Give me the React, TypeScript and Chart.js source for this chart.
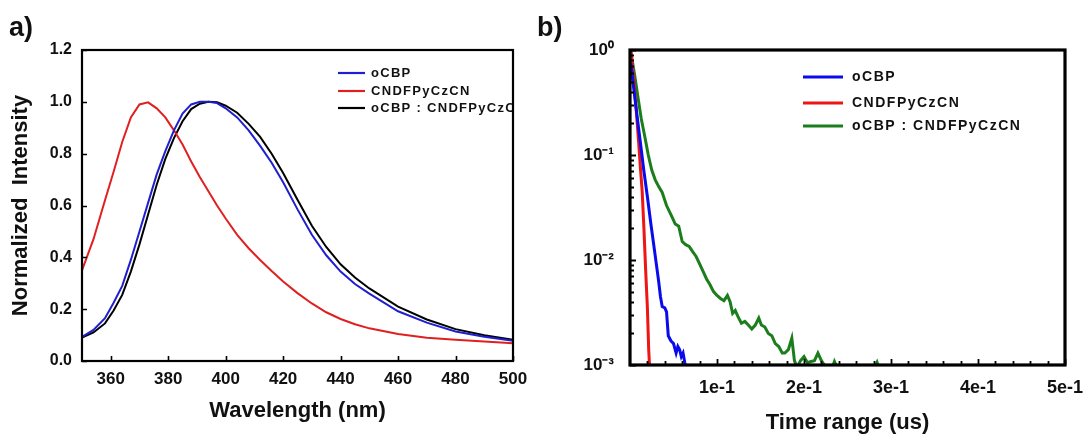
import React, { useEffect, useRef } from 'react';
import { Chart, registerables } from 'chart.js';

Chart.register(...registerables);

const FONT = '"Liberation Sans", Arial, Helvetica, sans-serif';

// ---------- Panel a: normalized PL spectra ----------
const wavelengths = [350, 354, 358, 361, 364, 367, 370, 373, 376, 379, 382, 385, 388, 391, 394, 397, 400, 404, 408, 412, 416, 420, 425, 430, 435, 440, 445, 450, 460, 470, 480, 490, 500];
const oCBPSpectrum = [0.093, 0.12, 0.165, 0.225, 0.29, 0.39, 0.5, 0.61, 0.72, 0.81, 0.89, 0.955, 0.99, 1.0, 1.0, 0.995, 0.975, 0.94, 0.89, 0.83, 0.765, 0.69, 0.585, 0.487, 0.408, 0.345, 0.297, 0.26, 0.192, 0.148, 0.114, 0.094, 0.078];
const cndfSpectrum = [0.35, 0.47, 0.62, 0.73, 0.845, 0.94, 0.99, 0.998, 0.975, 0.94, 0.89, 0.835, 0.77, 0.71, 0.655, 0.6, 0.55, 0.487, 0.435, 0.39, 0.347, 0.307, 0.262, 0.222, 0.188, 0.162, 0.142, 0.126, 0.104, 0.09, 0.082, 0.075, 0.068];
const blendSpectrum = [0.09, 0.11, 0.145, 0.195, 0.255, 0.345, 0.45, 0.565, 0.68, 0.78, 0.86, 0.925, 0.972, 0.993, 1.0, 0.998, 0.985, 0.958, 0.915, 0.865, 0.8, 0.725, 0.622, 0.522, 0.44, 0.373, 0.322, 0.28, 0.21, 0.16, 0.123, 0.099, 0.082];
const aXTicks = [360, 380, 400, 420, 440, 460, 480, 500];
const aYTicks = [0, 0.2, 0.4, 0.6, 0.8, 1.0, 1.2];
const aLabels = ['oCBP', 'CNDFPyCzCN', 'oCBP : CNDFPyCzCN'];

// ---------- Panel b: transient decay ----------
const oCBPDecay: [number, number | null][] = [
  [0.001, 0.75], [0.004, 0.45], [0.008, 0.24], [0.012, 0.13], [0.016, 0.07], [0.02, 0.04], [0.024, 0.022],
  [0.027, 0.0145], [0.03, 0.0095], [0.033, 0.0062], [0.035, 0.0045], [0.037, 0.0036], [0.04, 0.0035],
  [0.042, 0.0032], [0.044, 0.0019], [0.047, 0.0017], [0.05, 0.0016], [0.053, 0.0013], [0.055, 0.0015],
  [0.057, 0.0014], [0.059, 0.0012], [0.061, 0.0013], [0.063, 0.00105], [0.065, 0.0009],
];
const cndfDecay: [number, number | null][] = [
  [0.001, 1.0], [0.004, 0.55], [0.007, 0.28], [0.01, 0.13], [0.012, 0.075], [0.014, 0.045], [0.016, 0.02],
  [0.018, 0.008], [0.02, 0.0035], [0.0215, 0.0014], [0.023, 0.0008],
];
const blendDecay: [number, number | null][] = [
  [0.001, 0.95], [0.005, 0.6], [0.009, 0.36], [0.013, 0.22], [0.017, 0.15], [0.021, 0.1], [0.025, 0.072],
  [0.029, 0.058], [0.033, 0.05], [0.037, 0.044], [0.042, 0.033], [0.048, 0.026], [0.052, 0.022], [0.056, 0.021],
  [0.06, 0.015], [0.064, 0.014], [0.068, 0.0135], [0.072, 0.012], [0.076, 0.0108], [0.08, 0.0092], [0.084, 0.0078],
  [0.088, 0.0066], [0.092, 0.0058], [0.096, 0.005], [0.1, 0.0046], [0.104, 0.0043], [0.108, 0.0041], [0.112, 0.0046],
  [0.115, 0.004], [0.118, 0.0031], [0.121, 0.0033], [0.124, 0.0029], [0.128, 0.0025], [0.132, 0.0026], [0.136, 0.0024],
  [0.14, 0.0022], [0.144, 0.0024], [0.148, 0.0028], [0.151, 0.0024], [0.155, 0.0023], [0.159, 0.002], [0.163, 0.0019],
  [0.167, 0.0016], [0.171, 0.0015], [0.175, 0.0013], [0.178, 0.0013], [0.182, 0.0014], [0.186, 0.0018], [0.189, 0.0011],
  [0.192, 0.00095], [0.196, 0.0011], [0.2, 0.0012], [0.204, 0.00105], [0.208, 0.00108], [0.212, 0.0011], [0.216, 0.0013],
  [0.22, 0.0011], [0.224, 0.00098], [0.227, 0.0009], [0.23, null], [0.233, 0.00097], [0.235, 0.00108], [0.238, 0.00095],
  [0.26, null], [0.282, 0.00097], [0.284, 0.00106], [0.286, 0.00095],
];
const bXMajor = [0.1, 0.2, 0.3, 0.4, 0.5];
const bXLabels = ['1e-1', '2e-1', '3e-1', '4e-1', '5e-1'];
const bYMajor = [1, 0.1, 0.01, 0.001];
const bYLabels = ['10\u2070', '10\u207B\u00B9', '10\u207B\u00B2', '10\u207B\u00B3'];
const bLabels = ['oCBP', 'CNDFPyCzCN', 'oCBP : CNDFPyCzCN'];

// minor tick positions
const bXMinor: number[] = [];
for (let i = 1; i <= 25; i++) bXMinor.push(+(i * 0.02).toFixed(2));
const bYMinor: number[] = [];
for (const d of [0.001, 0.01, 0.1]) for (let m = 1; m <= 9; m++) bYMinor.push(+(d * m).toPrecision(3));
bYMinor.push(1);

const near = (a: number, list: number[]) => list.some((v) => Math.abs(v - a) / Math.abs(v || 1) < 1e-6);

type DecorCfg = {
  boxWidth: number;
  tickWidth: number;
  majorLen: number;
  minorLen: number;
  xMajor: number[];
  yMajor: number[];
  legend: { x0: number; x1: number; tx: number; ys: number[]; lineWidth: number; font: string; spacing: string };
};

function makeDecor(cfg: DecorCfg) {
  return {
    id: 'panelDecor',
    afterDatasetsDraw(chart: any) {
      const { ctx, chartArea: a } = chart;
      // legend (clipped to plot area)
      ctx.save();
      ctx.beginPath();
      ctx.rect(a.left, a.top, a.right - a.left, a.bottom - a.top);
      ctx.clip();
      chart.data.datasets.forEach((ds: any, i: number) => {
        const y = cfg.legend.ys[i];
        ctx.strokeStyle = ds.borderColor;
        ctx.lineWidth = cfg.legend.lineWidth;
        ctx.beginPath();
        ctx.moveTo(cfg.legend.x0, y);
        ctx.lineTo(cfg.legend.x1, y);
        ctx.stroke();
        ctx.fillStyle = '#111';
        ctx.font = cfg.legend.font;
        (ctx as any).letterSpacing = cfg.legend.spacing;
        ctx.textBaseline = 'middle';
        ctx.textAlign = 'left';
        ctx.fillText(ds.label, cfg.legend.tx, y + 0.5);
      });
      ctx.restore();

      // inward ticks
      ctx.save();
      ctx.strokeStyle = '#000';
      ctx.lineWidth = cfg.tickWidth;
      ctx.beginPath();
      const xs = chart.scales.x;
      xs.ticks.forEach((t: any) => {
        const px = Math.round(xs.getPixelForValue(t.value)) + 0.5;
        const len = near(t.value, cfg.xMajor) ? cfg.majorLen : cfg.minorLen;
        ctx.moveTo(px, a.bottom);
        ctx.lineTo(px, a.bottom - len);
      });
      const ys = chart.scales.y;
      ys.ticks.forEach((t: any) => {
        const py = Math.round(ys.getPixelForValue(t.value)) + 0.5;
        const len = near(t.value, cfg.yMajor) ? cfg.majorLen : cfg.minorLen;
        ctx.moveTo(a.left, py);
        ctx.lineTo(a.left + len, py);
      });
      ctx.stroke();
      ctx.lineWidth = cfg.boxWidth;
      ctx.strokeRect(a.left, a.top, a.right - a.left, a.bottom - a.top);
      ctx.restore();
    },
  };
}

const tickFont = (size: number) => ({ family: FONT, size, weight: 'bold' as const });

export default function App() {
  const refA = useRef<HTMLCanvasElement | null>(null);
  const refB = useRef<HTMLCanvasElement | null>(null);

  useEffect(() => {
    const lineDs = (label: string, data: any[], color: string, width: number) => ({
      label,
      data,
      borderColor: color,
      backgroundColor: color,
      borderWidth: width,
      pointRadius: 0,
      tension: 0,
      fill: false,
      clip: 0,
      spanGaps: false,
    });

    const fixX = (h: number) => (s: any) => {
      s.height = h;
      s.paddingLeft = 0;
      s.paddingRight = 0;
    };

    const chartA = new Chart(refA.current as HTMLCanvasElement, {
      type: 'line',
      data: {
        datasets: [
          lineDs(aLabels[0], wavelengths.map((x, i) => ({ x, y: oCBPSpectrum[i] })), '#1f1fd0', 2),
          lineDs(aLabels[1], wavelengths.map((x, i) => ({ x, y: cndfSpectrum[i] })), '#e02020', 2),
          lineDs(aLabels[2], wavelengths.map((x, i) => ({ x, y: blendSpectrum[i] })), '#000000', 2),
        ],
      },
      options: {
        animation: false,
        responsive: false,
        events: [],
        layout: { padding: { left: 0, top: 50, right: 32, bottom: 0 } },
        plugins: { legend: { display: false }, tooltip: { enabled: false } },
        scales: {
          x: {
            type: 'linear',
            min: 350,
            max: 500,
            grid: { display: false, drawTicks: false },
            border: { display: false },
            afterBuildTicks: (s: any) => { s.ticks = aXTicks.map((v) => ({ value: v })); },
            afterFit: fixX(74),
            ticks: { font: tickFont(17), color: '#111', padding: 8, maxRotation: 0, autoSkip: false, callback: (v: any) => String(v) },
            title: { display: true, text: 'Wavelength (nm)', font: { family: FONT, size: 22, weight: 'bold' }, color: '#111', padding: { top: 0, bottom: 11 } },
          },
          y: {
            type: 'linear',
            min: 0,
            max: 1.2,
            grid: { display: false, drawTicks: false },
            border: { display: false },
            afterBuildTicks: (s: any) => { s.ticks = aYTicks.map((v) => ({ value: v })); },
            afterFit: (s: any) => { s.width = 82; },
            ticks: { font: tickFont(16), color: '#111', padding: 10, autoSkip: false, callback: (v: any) => Number(v).toFixed(1) },
            title: { display: true, text: 'Normalized  Intensity', font: { family: FONT, size: 22, weight: 'bold' }, color: '#111', padding: { top: 8, bottom: 0 } },
          },
        },
      } as any,
      plugins: [
        makeDecor({
          boxWidth: 2.2,
          tickWidth: 1.6,
          majorLen: 5,
          minorLen: 5,
          xMajor: aXTicks,
          yMajor: aYTicks,
          legend: { x0: 338, x1: 365, tx: 371, ys: [73, 91, 108], lineWidth: 2.2, font: `bold 13px ${FONT}`, spacing: '1.3px' },
        }),
      ],
    });

    const toPts = (arr: [number, number | null][]) => arr.map(([x, y]) => ({ x, y }));

    const chartB = new Chart(refB.current as HTMLCanvasElement, {
      type: 'line',
      data: {
        datasets: [
          lineDs(bLabels[0], toPts(oCBPDecay), '#0a0aee', 3),
          lineDs(bLabels[1], toPts(cndfDecay), '#ee1515', 3),
          lineDs(bLabels[2], toPts(blendDecay), '#1b7d1b', 3),
        ],
      },
      options: {
        animation: false,
        responsive: false,
        events: [],
        layout: { padding: { left: 0, top: 50, right: 20, bottom: 0 } },
        plugins: { legend: { display: false }, tooltip: { enabled: false } },
        scales: {
          x: {
            type: 'linear',
            min: 0,
            max: 0.5,
            grid: { display: false, drawTicks: false },
            border: { display: false },
            afterBuildTicks: (s: any) => { s.ticks = bXMinor.map((v) => ({ value: v })); },
            afterFit: fixX(70),
            ticks: {
              font: tickFont(18), color: '#111', padding: 12, maxRotation: 0, autoSkip: false,
              callback: (v: any) => {
                const i = bXMajor.findIndex((m) => Math.abs(m - Number(v)) < 1e-9);
                return i >= 0 ? bXLabels[i] : '';
              },
            },
            title: { display: true, text: 'Time range (us)', font: { family: FONT, size: 22, weight: 'bold', lineHeight: 1.1 }, color: '#111', padding: { top: 0, bottom: 0 } },
          },
          y: {
            type: 'logarithmic',
            min: 0.001,
            max: 1,
            grid: { display: false, drawTicks: false },
            border: { display: false },
            afterBuildTicks: (s: any) => { s.ticks = bYMinor.map((v) => ({ value: v })); },
            afterFit: (s: any) => { s.width = 85; },
            ticks: {
              font: tickFont(17), color: '#111', padding: 16, autoSkip: false,
              callback: (v: any) => {
                const i = bYMajor.findIndex((m) => Math.abs(m - Number(v)) / m < 1e-6);
                return i >= 0 ? bYLabels[i] : '';
              },
            },
          },
        },
      } as any,
      plugins: [
        makeDecor({
          boxWidth: 3.2,
          tickWidth: 1.8,
          majorLen: 6,
          minorLen: 4,
          xMajor: bXMajor,
          yMajor: bYMajor,
          legend: { x0: 258, x1: 298, tx: 307, ys: [77, 103, 126], lineWidth: 3, font: `bold 14px ${FONT}`, spacing: '1.5px' },
        }),
      ],
    });

    return () => {
      chartA.destroy();
      chartB.destroy();
    };
  }, []);

  const panelLabel: React.CSSProperties = {
    position: 'absolute',
    top: 15,
    fontFamily: FONT,
    fontWeight: 'bold',
    fontSize: 27,
    lineHeight: '24px',
    color: '#111',
  };

  return (
    <div style={{ position: 'absolute', left: 0, top: 0, width: 1085, height: 435, background: '#fff', overflow: 'hidden' }}>
      <canvas ref={refA} width={545} height={435} style={{ position: 'absolute', left: 0, top: 0, width: 545, height: 435 }} />
      <canvas ref={refB} width={540} height={435} style={{ position: 'absolute', left: 545, top: 0, width: 540, height: 435 }} />
      <div style={{ ...panelLabel, left: 9 }}>a)</div>
      <div style={{ ...panelLabel, left: 537 }}>b)</div>
    </div>
  );
}
